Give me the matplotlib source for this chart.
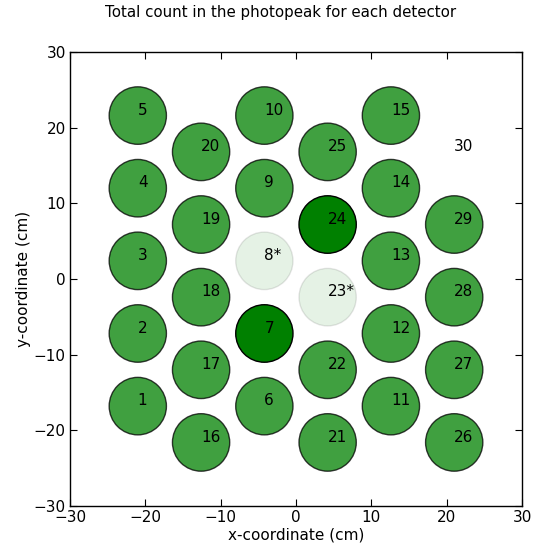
import matplotlib
matplotlib.use("Agg")
import matplotlib.pyplot as plt
from matplotlib.patches import Circle

# detector ids, positions (cm) and relative photopeak counts
det_ids = [1, 2, 3, 4, 5, 6, 7, 8, 9, 10, 11, 12, 13, 14, 15,
           16, 17, 18, 19, 20, 21, 22, 23, 24, 25, 26, 27, 28, 29, 30]
det_labels = ["1", "2", "3", "4", "5", "6", "7", "8*", "9", "10",
              "11", "12", "13", "14", "15", "16", "17", "18", "19", "20",
              "21", "22", "23*", "24", "25", "26", "27", "28", "29", "30"]
det_x = [-21.0] * 5 + [-4.2] * 5 + [12.6] * 5 + [-12.6] * 5 + [4.2] * 5 + [21.0] * 5
det_y = [-16.8, -7.2, 2.4, 12.0, 21.6] * 3 + [-21.6, -12.0, -2.4, 7.2, 16.8] * 3
counts = [750, 750, 750, 750, 750,
          750, 1000, 100, 750, 750,
          750, 750, 750, 750, 750,
          750, 750, 750, 750, 750,
          750, 750, 100, 1000, 750,
          750, 750, 750, 750, 0]
radius = 3.8

fig = plt.figure(figsize=(5.35, 5.5), dpi=100)
ax = fig.add_axes([70 / 535, 44 / 550, 452 / 535, 454 / 550])

cmax = max(counts)
for lab, x, y, c in zip(det_labels, det_x, det_y, counts):
    if c > 0:
        a = c / cmax
        ax.add_patch(Circle((x, y), radius, facecolor=(0, 0.5, 0, a),
                            edgecolor=(0, 0, 0, a), linewidth=1.0))
    ax.text(x, y + 0.1, lab, fontsize=11, ha="left", va="baseline", color="black")

ax.set_xlim(-30, 30)
ax.set_ylim(-30, 30)
ax.set_xticks(range(-30, 31, 10))
ax.set_yticks(range(-30, 31, 10))
ax.tick_params(direction="in", top=True, right=True, labelsize=11, length=5, pad=3)
for s in ax.spines.values():
    s.set_linewidth(1.0)
ax.set_xlabel("x-coordinate (cm)", fontsize=11, labelpad=2)
ax.set_ylabel("y-coordinate (cm)", fontsize=11, labelpad=2)
fig.text(280.5 / 535, 1 - 12 / 550, "Total count in the photopeak for each detector",
         fontsize=10.8, ha="center", va="center")

fig.savefig("out.png", dpi=100)
